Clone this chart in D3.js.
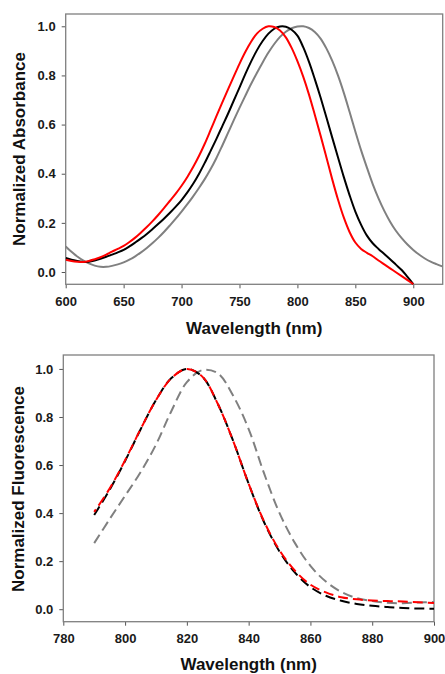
<!DOCTYPE html>
<html>
<head>
<meta charset="utf-8">
<script src="https://cdn.jsdelivr.net/npm/d3@7"></script>
<style>
  body { margin: 0; background: #fff; }
  svg { display: block; font-family: "Liberation Sans", Arial, sans-serif; }
</style>
</head>
<body>
<svg id="chart" width="445" height="674"></svg>
<script>
/* global d3 */

// ---- absorbance panel (top), 5 nm steps from 600 nm ----
var absWavelength = d3.range(600, 926, 5);
var absRed = [
  0.050, 0.045, 0.042, 0.041, 0.045, 0.052, 0.060, 0.071, 0.083, 0.094,
  0.106, 0.122, 0.140, 0.161, 0.183, 0.207, 0.233, 0.261, 0.290, 0.319,
  0.351, 0.387, 0.427, 0.472, 0.522, 0.577, 0.633, 0.688, 0.742, 0.795,
  0.847, 0.895, 0.937, 0.970, 0.990, 1.000, 0.997, 0.983, 0.955, 0.912,
  0.858, 0.795, 0.722, 0.640, 0.555, 0.467, 0.378, 0.295, 0.222, 0.163,
  0.120, 0.094, 0.078, 0.064, 0.047, 0.031, 0.015, -0.001, -0.017, -0.033,
  -0.049
];
var absBlack = [
  0.057, 0.050, 0.045, 0.041, 0.042, 0.047, 0.054, 0.062, 0.071, 0.080,
  0.090, 0.104, 0.120, 0.137, 0.155, 0.175, 0.196, 0.218, 0.241, 0.266,
  0.293, 0.324, 0.359, 0.399, 0.444, 0.492, 0.541, 0.592, 0.643, 0.697,
  0.750, 0.805, 0.856, 0.902, 0.940, 0.970, 0.990, 0.999, 0.998, 0.986,
  0.962, 0.915, 0.855, 0.785, 0.710, 0.630, 0.548, 0.467, 0.387, 0.313,
  0.246, 0.192, 0.148, 0.117, 0.094, 0.073, 0.052, 0.030, 0.008, -0.020,
  -0.049
];
var absGray = [
  0.104, 0.082, 0.063, 0.047, 0.035, 0.026, 0.021, 0.021, 0.025, 0.031,
  0.039, 0.050, 0.064, 0.080, 0.098, 0.118, 0.140, 0.164, 0.190, 0.217,
  0.246, 0.276, 0.308, 0.342, 0.378, 0.418, 0.463, 0.513, 0.565, 0.617,
  0.668, 0.717, 0.765, 0.810, 0.853, 0.893, 0.928, 0.957, 0.978, 0.992,
  0.999, 1.000, 0.993, 0.977, 0.950, 0.910, 0.860, 0.800, 0.730, 0.652,
  0.572, 0.495, 0.425, 0.358, 0.300, 0.249, 0.205, 0.168, 0.138, 0.112,
  0.090, 0.071, 0.055, 0.042, 0.032, 0.023
];
var absXTicks = [600, 650, 700, 750, 800, 850, 900];

// ---- fluorescence panel (bottom), 5 nm steps from 790 nm ----
var emWavelength = d3.range(790, 901, 5);
var emBlack = [
  0.392, 0.497, 0.617, 0.748, 0.870, 0.962, 1.000, 0.968, 0.855, 0.700,
  0.522, 0.362, 0.240, 0.152, 0.092, 0.056, 0.035, 0.022, 0.014, 0.009,
  0.005, 0.003, 0.002
];
var emRed = [
  0.405, 0.502, 0.620, 0.749, 0.870, 0.962, 1.000, 0.968, 0.855, 0.700,
  0.522, 0.365, 0.245, 0.160, 0.102, 0.070, 0.050, 0.041, 0.036, 0.034,
  0.032, 0.029, 0.026
];
var emGray = [
  0.275, 0.375, 0.472, 0.570, 0.685, 0.825, 0.945, 0.995, 0.982, 0.888,
  0.750, 0.565, 0.400, 0.275, 0.180, 0.115, 0.072, 0.046, 0.034, 0.027,
  0.025, 0.028, 0.030
];
var emXTicks = [780, 800, 820, 840, 860, 880, 900];

var yTicks = [0, 0.2, 0.4, 0.6, 0.8, 1.0];

var svg = d3.select("#chart");

function panel(opts) {
  var x = d3.scaleLinear().domain(opts.xDomain).range([opts.left, opts.right]);
  var y = d3.scaleLinear().domain(opts.yDomain).range([opts.bottom, opts.top]);
  var g = svg.append("g");

  var clipId = "clip" + opts.name;
  g.append("clipPath").attr("id", clipId)
    .append("rect")
    .attr("x", opts.left).attr("y", opts.top - 2)
    .attr("width", opts.right - opts.left)
    .attr("height", opts.bottom - opts.top + 4);

  // x axis
  var xAxis = g.append("g")
    .attr("transform", "translate(0," + opts.bottom + ")")
    .call(d3.axisBottom(x).tickValues(opts.xTicks).tickSize(4).tickPadding(8)
      .tickFormat(d3.format("d")));
  // y axis
  var yAxis = g.append("g")
    .attr("transform", "translate(" + opts.left + ",0)")
    .call(d3.axisLeft(y).tickValues(yTicks).tickSize(4).tickPadding(6)
      .tickFormat(d3.format(".1f")));

  [xAxis, yAxis].forEach(function (a) {
    a.select(".domain").remove();
    a.selectAll(".tick line").attr("stroke", "#555").attr("stroke-width", 1);
    a.selectAll(".tick text")
      .attr("fill", "#1a1a1a")
      .style("font-size", "13px")
      .style("font-weight", "bold");
  });

  // frame
  g.append("rect")
    .attr("x", opts.left).attr("y", opts.top)
    .attr("width", opts.right - opts.left)
    .attr("height", opts.bottom - opts.top)
    .attr("fill", "none")
    .attr("stroke", "#7f7f7f")
    .attr("stroke-width", 1.3);

  var lines = g.append("g").attr("clip-path", "url(#" + clipId + ")");
  opts.series.forEach(function (s) {
    var line = d3.line()
      .x(function (d) { return x(d[0]); })
      .y(function (d) { return y(d[1]); })
      .curve(d3.curveCatmullRom.alpha(0.5));
    var pts = opts.wavelength.map(function (w, i) { return [w, s.values[i]]; })
      .filter(function (d) { return d[1] !== undefined; });
    lines.append("path")
      .attr("d", line(pts))
      .attr("fill", "none")
      .attr("stroke", s.color)
      .attr("stroke-width", 2)
      .attr("stroke-linejoin", "round")
      .attr("stroke-dasharray", s.dash || null)
      .attr("stroke-dashoffset", s.offset || 0);
  });

  // titles
  g.append("text")
    .attr("x", (opts.left + opts.right) / 2)
    .attr("y", opts.xTitleY)
    .attr("text-anchor", "middle")
    .style("font-size", "17px")
    .style("font-weight", "bold")
    .attr("fill", "#111")
    .text("Wavelength (nm)");

  g.append("text")
    .attr("transform", "translate(" + opts.yTitleX + "," + opts.yTitleCY + ") rotate(-90)")
    .attr("text-anchor", "middle")
    .style("font-size", "17px")
    .style("font-weight", "bold")
    .attr("fill", "#111")
    .text(opts.yTitle);
}

panel({
  name: "abs",
  left: 65.7, right: 442.7, top: 14, bottom: 284.3,
  xDomain: [600, 925.4], yDomain: [-0.05, 1.05],
  xTicks: absXTicks,
  wavelength: absWavelength,
  series: [
    { values: absGray, color: "#808080" },
    { values: absBlack, color: "#000000" },
    { values: absRed, color: "#ff0000" }
  ],
  xTitleY: 334, yTitleX: 25, yTitleCY: 149,
  yTitle: "Normalized Absorbance"
});

panel({
  name: "em",
  left: 63.3, right: 434, top: 355, bottom: 621.7,
  xDomain: [780, 900], yDomain: [-0.052, 1.058],
  xTicks: emXTicks,
  wavelength: emWavelength,
  series: [
    { values: emGray, color: "#808080", dash: "10,5" },
    { values: emBlack, color: "#000000", dash: "10,5" },
    { values: emRed, color: "#ff0000", dash: "10,5", offset: 7 }
  ],
  xTitleY: 670, yTitleX: 24, yTitleCY: 489,
  yTitle: "Normalized Fluorescence"
});
</script>
</body>
</html>
